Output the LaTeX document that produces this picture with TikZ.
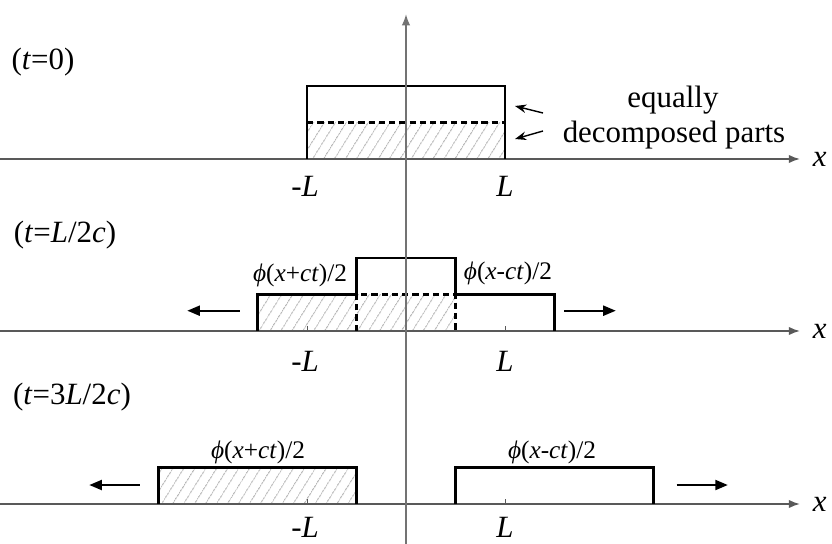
\documentclass[tikz,border=0pt]{standalone}
\usepackage{fontspec}
\setmainfont{Liberation Serif}
\usetikzlibrary{positioning,patterns.meta,arrows.meta}
\tikzset{
  axisline/.style={draw=black!65, line width=1.2pt, -{Latex[length=8pt,width=6pt]}},
  tickmark/.style={draw=black!65, line width=0.7pt},
  pulse/.style={draw=black, line width=1.7pt},
  halfdash/.style={draw=black, line width=1.5pt, dash pattern=on 4.5pt off 2.8pt},
  halfpart/.style={pattern={Lines[angle=58,distance=6.5pt,line width=0.6pt]}, pattern color=black!45},
  motion/.style={line width=1.7pt, -{Triangle[length=9pt,width=7pt]}},
  pointer/.style={line width=1pt, -{Stealth[length=8pt,width=6pt]}},
  halflabel/.style={font=\fontsize{18}{22}\selectfont},
}
\begin{document}
\begin{tikzpicture}[x=2.475cm, y=0.9125cm, every node/.style={font=\fontsize{22}{26}\selectfont, inner sep=0pt}]
    \useasboundingbox (-4.101,-10.521) rectangle (4.303,4.356);
    % t = 0
    \begin{scope}
        \fill[halfpart] (-1,0) rectangle (1,1);
        \coordinate (a0) at (-4.2,0);
        \coordinate (b0) at (3.98,0);
        \draw[axisline] (a0) -- (b0);
        \node[right=9pt of b0] (x0) {\textit{x}};
        \draw[halfdash] (-1,1) -- (1,1);
        \draw[pulse] (-1,0) -- (-1,2) -- (1,2) -- (1,0);
        \node (mL0) at (-1.02,-0.74) {-\textit{L}};
        \node (pL0) at (1,-0.74) {\textit{L}};
        \node (time0) at (-3.667,2.66) {(\textit{t}=0)};
        \node (eq) at (2.697,1.616) {equally};
        \node (dec) at (2.707,0.658) {decomposed parts};
        \coordinate (up0) at (1.384,1.26);
        \coordinate (up1) at (1.101,1.452);
        \coordinate (lo0) at (1.384,0.767);
        \coordinate (lo1) at (1.101,0.548);
        \draw[pointer] (up0) -- (up1);
        \draw[pointer] (lo0) -- (lo1);
    \end{scope}
    % t = L/2c
    \begin{scope}[yshift=-4.3cm]
        \fill[halfpart] (-1.5,0) rectangle (0.5,1);
        \coordinate (a1) at (-4.2,0);
        \coordinate (b1) at (3.98,0);
        \draw[axisline] (a1) -- (b1);
        \node[right=9pt of b1] (x1) {\textit{x}};
        \draw[tickmark] (-1,0) -- (-1,0.15);
        \draw[tickmark] (1,0) -- (1,0.15);
        \draw[halfdash] (-0.5,0) -- (-0.5,1) -- (0.5,1) -- (0.5,0);
        \draw[pulse] (-1.5,0) -- (-1.5,1) -- (-0.5,1) -- (-0.5,2) -- (0.5,2) -- (0.5,1) -- (1.5,1) -- (1.5,0);
        \node (mL1) at (-1.02,-0.83) {-\textit{L}};
        \node (pL1) at (1,-0.83) {\textit{L}};
        \node (time1) at (-3.444,2.63) {(\textit{t}=\textit{L}/2\textit{c})};
        \node[halflabel] (lft1) at (-1.07,1.534) {\textit{ϕ}(\textit{x}+\textit{ct})/2};
        \node[halflabel] (rgt1) at (1.03,1.59) {\textit{ϕ}(\textit{x}-\textit{ct})/2};
        \coordinate (ml0) at (-1.68,0.556);
        \coordinate (ml1) at (-2.21,0.556);
        \coordinate (mr0) at (1.596,0.556);
        \coordinate (mr1) at (2.12,0.556);
        \draw[motion] (ml0) -- (ml1);
        \draw[motion] (mr0) -- (mr1);
    \end{scope}
    % t = 3L/2c
    \begin{scope}[yshift=-8.625cm]
        \fill[halfpart] (-2.5,0) rectangle (-0.5,1);
        \coordinate (a2) at (-4.2,0);
        \coordinate (b2) at (3.98,0);
        \draw[axisline] (a2) -- (b2);
        \node[right=9pt of b2] (x2) {\textit{x}};
        \draw[tickmark] (-1,0) -- (-1,0.15);
        \draw[tickmark] (1,0) -- (1,0.15);
        \draw[pulse] (-2.5,0) -- (-2.5,1) -- (-0.5,1) -- (-0.5,0);
        \draw[pulse] (0.5,0) -- (0.5,1) -- (2.5,1) -- (2.5,0);
        \node (mL2) at (-1.02,-0.64) {-\textit{L}};
        \node (pL2) at (1,-0.64) {\textit{L}};
        \node (time2) at (-3.374,2.93) {(\textit{t}=3\textit{L}/2\textit{c})};
        \node[halflabel] (lft2) at (-1.495,1.42) {\textit{ϕ}(\textit{x}+\textit{ct})/2};
        \node[halflabel] (rgt2) at (1.475,1.42) {\textit{ϕ}(\textit{x}-\textit{ct})/2};
        \coordinate (bl0) at (-2.687,0.52);
        \coordinate (bl1) at (-3.2,0.52);
        \coordinate (br0) at (2.734,0.52);
        \coordinate (br1) at (3.252,0.52);
        \draw[motion] (bl0) -- (bl1);
        \draw[motion] (br0) -- (br1);
    \end{scope}
    % vertical axis
    \coordinate (vbot) at (0,-10.6);
    \coordinate (vtop) at (0,3.97);
    \draw[axisline, draw=black!55] (vbot) -- (vtop);
\end{tikzpicture}
\end{document}
